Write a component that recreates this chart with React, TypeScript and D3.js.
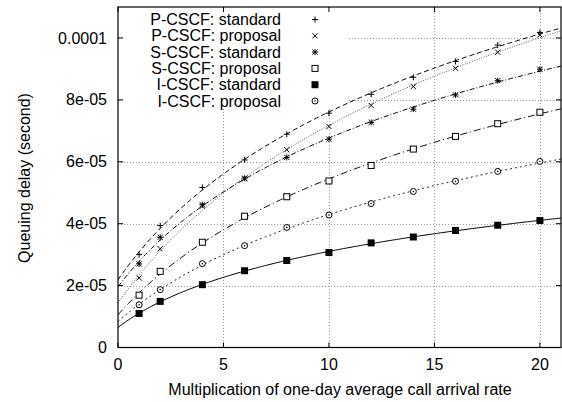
import React from "react";
import * as d3 from "d3";

const xValues = [1, 2, 4, 6, 8, 10, 12, 14, 16, 18, 20];
const pcscfStandard = [3.0e-5, 3.94e-5, 5.17e-5, 6.06e-5, 6.89e-5, 7.57e-5, 8.18e-5, 8.73e-5, 9.24e-5, 9.77e-5, 10.18e-5];
const pcscfProposal = [2.25e-5, 3.19e-5, 4.57e-5, 5.45e-5, 6.39e-5, 7.14e-5, 7.82e-5, 8.43e-5, 9.02e-5, 9.54e-5, 10.1e-5];
const scscfStandard = [2.7e-5, 3.56e-5, 4.61e-5, 5.47e-5, 6.14e-5, 6.73e-5, 7.27e-5, 7.7e-5, 8.16e-5, 8.62e-5, 8.99e-5];
const scscfProposal = [1.69e-5, 2.46e-5, 3.4e-5, 4.24e-5, 4.87e-5, 5.38e-5, 5.88e-5, 6.41e-5, 6.82e-5, 7.23e-5, 7.6e-5];
const icscfStandard = [1.1e-5, 1.49e-5, 2.03e-5, 2.48e-5, 2.81e-5, 3.07e-5, 3.38e-5, 3.57e-5, 3.78e-5, 3.95e-5, 4.1e-5];
const icscfProposal = [1.38e-5, 1.87e-5, 2.71e-5, 3.29e-5, 3.88e-5, 4.28e-5, 4.65e-5, 5.04e-5, 5.37e-5, 5.69e-5, 6.01e-5];

const seriesNames = ["P-CSCF: standard", "P-CSCF: proposal", "S-CSCF: standard", "S-CSCF: proposal", "I-CSCF: standard", "I-CSCF: proposal"];
const xTicks = [0, 5, 10, 15, 20];
const yTicks = [0, 2e-5, 4e-5, 6e-5, 8e-5, 1e-4];
const yTickLabels = ["0", "2e-05", "4e-05", "6e-05", "8e-05", "0.0001"];
const xLabel = "Multiplication of one-day average call arrival rate";
const yLabel = "Queuing delay (second)";

const seriesValues = [pcscfStandard, pcscfProposal, scscfStandard, scscfProposal, icscfStandard, icscfProposal];
const symbols = ["plus", "cross", "star", "square", "filled", "circle"];
const dashes = ["5,3", "1,1.5", "5,2,1,2", "7,3,1,3", "", "2,3"];
const strokes = ["#000", "#555", "#000", "#000", "#000", "#222"];

// least-squares fit y = a + b*ln(1 + x/k), k chosen by grid search
function fit(xs: number[], ys: number[]) {
  let best = { a: 0, b: 0, k: 1, err: Infinity };
  for (let k = 0.3; k <= 60; k *= 1.02) {
    const t = xs.map((x) => Math.log(1 + x / k));
    const n = xs.length;
    const mt = d3.mean(t)!;
    const my = d3.mean(ys)!;
    let sxy = 0, sxx = 0;
    for (let i = 0; i < n; i++) {
      sxy += (t[i] - mt) * (ys[i] - my);
      sxx += (t[i] - mt) * (t[i] - mt);
    }
    const b = sxy / sxx;
    const a = my - b * mt;
    let err = 0;
    for (let i = 0; i < n; i++) err += (a + b * t[i] - ys[i]) ** 2;
    if (err < best.err) best = { a, b, k, err };
  }
  return (x: number) => best.a + best.b * Math.log(1 + x / best.k);
}

function Symbol({ type, x, y }: { type: string; x: number; y: number }) {
  const s = 3;
  const c = 2.6;
  if (type === "plus")
    return <path d={`M${x - s},${y}H${x + s}M${x},${y - s}V${y + s}`} stroke="#000" strokeWidth={1} fill="none" />;
  if (type === "cross")
    return <path d={`M${x - c},${y - c}L${x + c},${y + c}M${x - c},${y + c}L${x + c},${y - c}`} stroke="#000" strokeWidth={1} fill="none" />;
  if (type === "star")
    return (
      <path
        d={`M${x - s},${y}H${x + s}M${x},${y - s}V${y + s}M${x - c},${y - c}L${x + c},${y + c}M${x - c},${y + c}L${x + c},${y - c}`}
        stroke="#000" strokeWidth={1} fill="none"
      />
    );
  if (type === "square")
    return <rect x={x - 3} y={y - 3} width={6} height={6} stroke="#000" strokeWidth={1} fill="#fff" />;
  if (type === "filled") return <rect x={x - 3.5} y={y - 3.5} width={7} height={7} fill="#000" />;
  return (
    <g>
      <circle cx={x} cy={y} r={3} stroke="#000" strokeWidth={1} fill="#fff" />
      <circle cx={x} cy={y} r={0.8} fill="#000" />
    </g>
  );
}

export default function App() {
  const W = 562, H = 402;
  const left = 118, right = 561, top = 7, bottom = 347.5;
  const x = d3.scaleLinear().domain([0, 21]).range([left, right]);
  const y = d3.scaleLinear().domain([0, 1.1e-4]).range([bottom, top]);
  const font = "'Liberation Sans', Arial, Helvetica, sans-serif";
  const fs = 16;

  const samples = d3.range(0, 21.0001, 0.1);
  const fits = seriesValues.map((vals) => fit(xValues, vals));
  const lineGen = d3.line<number>().x((d) => x(d)).y((d) => y(d));

  const legendTextX = 281;
  const legendSymX = 315;
  const legendY0 = 19.5;
  const legendDy = 16.3;

  return (
    <svg width={W} height={H} style={{ position: "absolute", left: 0, top: 0, background: "#fff" }} fontFamily={font}>
      <defs>
        <clipPath id="plot">
          <rect x={left} y={top} width={right - left} height={bottom - top} />
        </clipPath>
      </defs>
      <rect width={W} height={H} fill="#fff" />
      {/* grid */}
      <g stroke="#999" strokeWidth={1} strokeDasharray="1,2">
        {xTicks.filter((t) => t > 0).map((t) => (
          <line key={"gx" + t} x1={Math.round(x(t)) + 0.5} x2={Math.round(x(t)) + 0.5} y1={top} y2={bottom} />
        ))}
        {yTicks.filter((t) => t > 0).map((t) => (
          <line key={"gy" + t} x1={left} x2={right} y1={Math.round(y(t)) + 0.5} y2={Math.round(y(t)) + 0.5} />
        ))}
      </g>
      {/* legend background */}
      <rect x={left + 1} y={top + 1} width={347 - left - 1} height={108 - top - 1} fill="#fff" />
      {/* fitted lines */}
      <g clipPath="url(#plot)" fill="none">
        {fits.map((f, i) => (
          <path
            key={"l" + i}
            d={lineGen.y((d) => y(f(d)))(samples)!}
            stroke={strokes[i]}
            strokeWidth={1}
            strokeDasharray={dashes[i] || undefined}
          />
        ))}
      </g>
      {/* points */}
      {seriesValues.map((vals, i) => (
        <g key={"p" + i}>
          {vals.map((v, j) => (
            <Symbol key={j} type={symbols[i]} x={x(xValues[j])} y={y(v)} />
          ))}
        </g>
      ))}
      {/* frame */}
      <rect x={left} y={top} width={right - left} height={bottom - top} fill="none" stroke="#000" strokeWidth={1.2} />
      {/* ticks */}
      <g stroke="#000" strokeWidth={1}>
        {xTicks.map((t) => (
          <g key={"tx" + t}>
            <line x1={x(t)} x2={x(t)} y1={bottom} y2={bottom - 5} />
            <line x1={x(t)} x2={x(t)} y1={top} y2={top + 5} />
          </g>
        ))}
        {yTicks.map((t) => (
          <g key={"ty" + t}>
            <line x1={left} x2={left + 5} y1={y(t)} y2={y(t)} />
            <line x1={right} x2={right - 5} y1={y(t)} y2={y(t)} />
          </g>
        ))}
      </g>
      {/* tick labels */}
      <g fontSize={fs} fill="#000">
        {xTicks.map((t) => (
          <text key={"lx" + t} x={x(t)} y={370} textAnchor="middle">{t}</text>
        ))}
        {yTicks.map((t, i) => (
          <text key={"ly" + t} x={107} y={y(t)} dy="0.35em" textAnchor="end">{yTickLabels[i]}</text>
        ))}
      </g>
      <text x={340} y={395} textAnchor="middle" fontSize={fs}>{xLabel}</text>
      <text transform={`translate(24,178) rotate(-90)`} dy="0.35em" textAnchor="middle" fontSize={fs}>{yLabel}</text>
      {/* legend */}
      <g fontSize={fs}>
        {seriesNames.map((name, i) => (
          <g key={"lg" + i}>
            <text x={legendTextX} y={legendY0 + i * legendDy} dy="0.35em" textAnchor="end">{name}</text>
            <Symbol type={symbols[i]} x={legendSymX} y={legendY0 + i * legendDy} />
          </g>
        ))}
      </g>
    </svg>
  );
}
